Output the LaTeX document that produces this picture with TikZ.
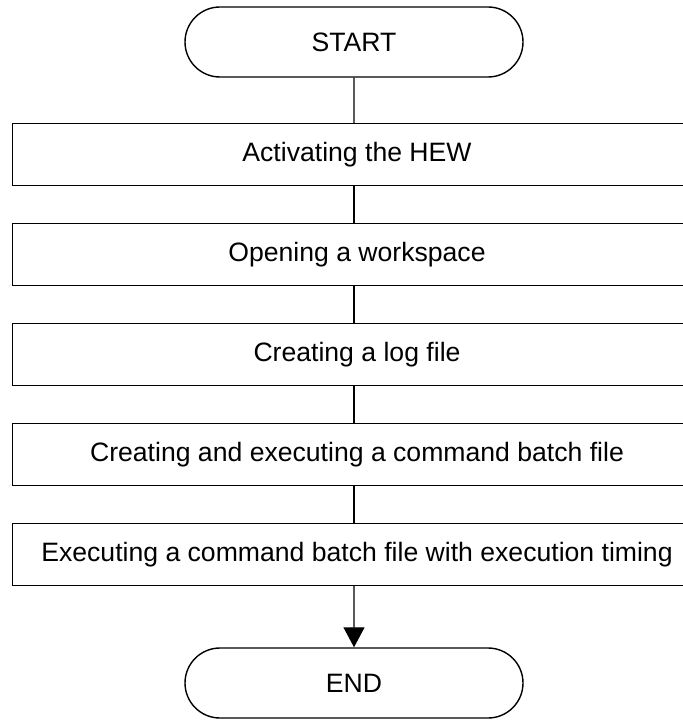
\documentclass[tikz,border=0pt]{standalone}
\usepackage{fontspec}
\setmainfont{Liberation Sans}
\usetikzlibrary{positioning,shapes.misc,arrows.meta}

\begin{document}
\begin{tikzpicture}[x=0.5pt, y=-0.5pt, line width=0.7pt,
	font=\fontsize{13.3}{16}\selectfont,
	term/.style={draw, rounded rectangle, minimum width=169pt, minimum height=35pt, inner sep=0pt},
	stepbox/.style={rectangle, minimum width=344pt, minimum height=30.5pt, inner sep=0pt}]
	\useasboundingbox (0,0) rectangle (683,721);

	\node[term] (start) at (354, 42) {START};
	\node[stepbox] (hew) at (357, 154.5) {Activating the HEW};
	\node[stepbox] (wksp) at (357, 254.5) {Opening a workspace};
	\node[stepbox] (log) at (357, 354.5) {Creating a log file};
	\node[stepbox] (batch) at (357, 454.5) {Creating and executing a command batch file};
	\node[stepbox] (timing) at (357, 554.5) {Executing a command batch file with execution timing};
	\node[term] (end) at (354, 683) {END};

	% boxes run off the right edge, so only three sides are drawn
	\foreach \b in {hew, wksp, log, batch, timing}
		\draw (\b.north east) -- (\b.north west) -- (\b.south west) -- (\b.south east);

	\draw (start) -- (start |- hew.north);
	\draw (start |- hew.south) -- (start |- wksp.north);
	\draw (start |- wksp.south) -- (start |- log.north);
	\draw (start |- log.south) -- (start |- batch.north);
	\draw (start |- batch.south) -- (start |- timing.north);
	\draw [-{Triangle[width=10.5pt, length=10pt]}] (start |- timing.south) -- (end);
\end{tikzpicture}
\end{document}
